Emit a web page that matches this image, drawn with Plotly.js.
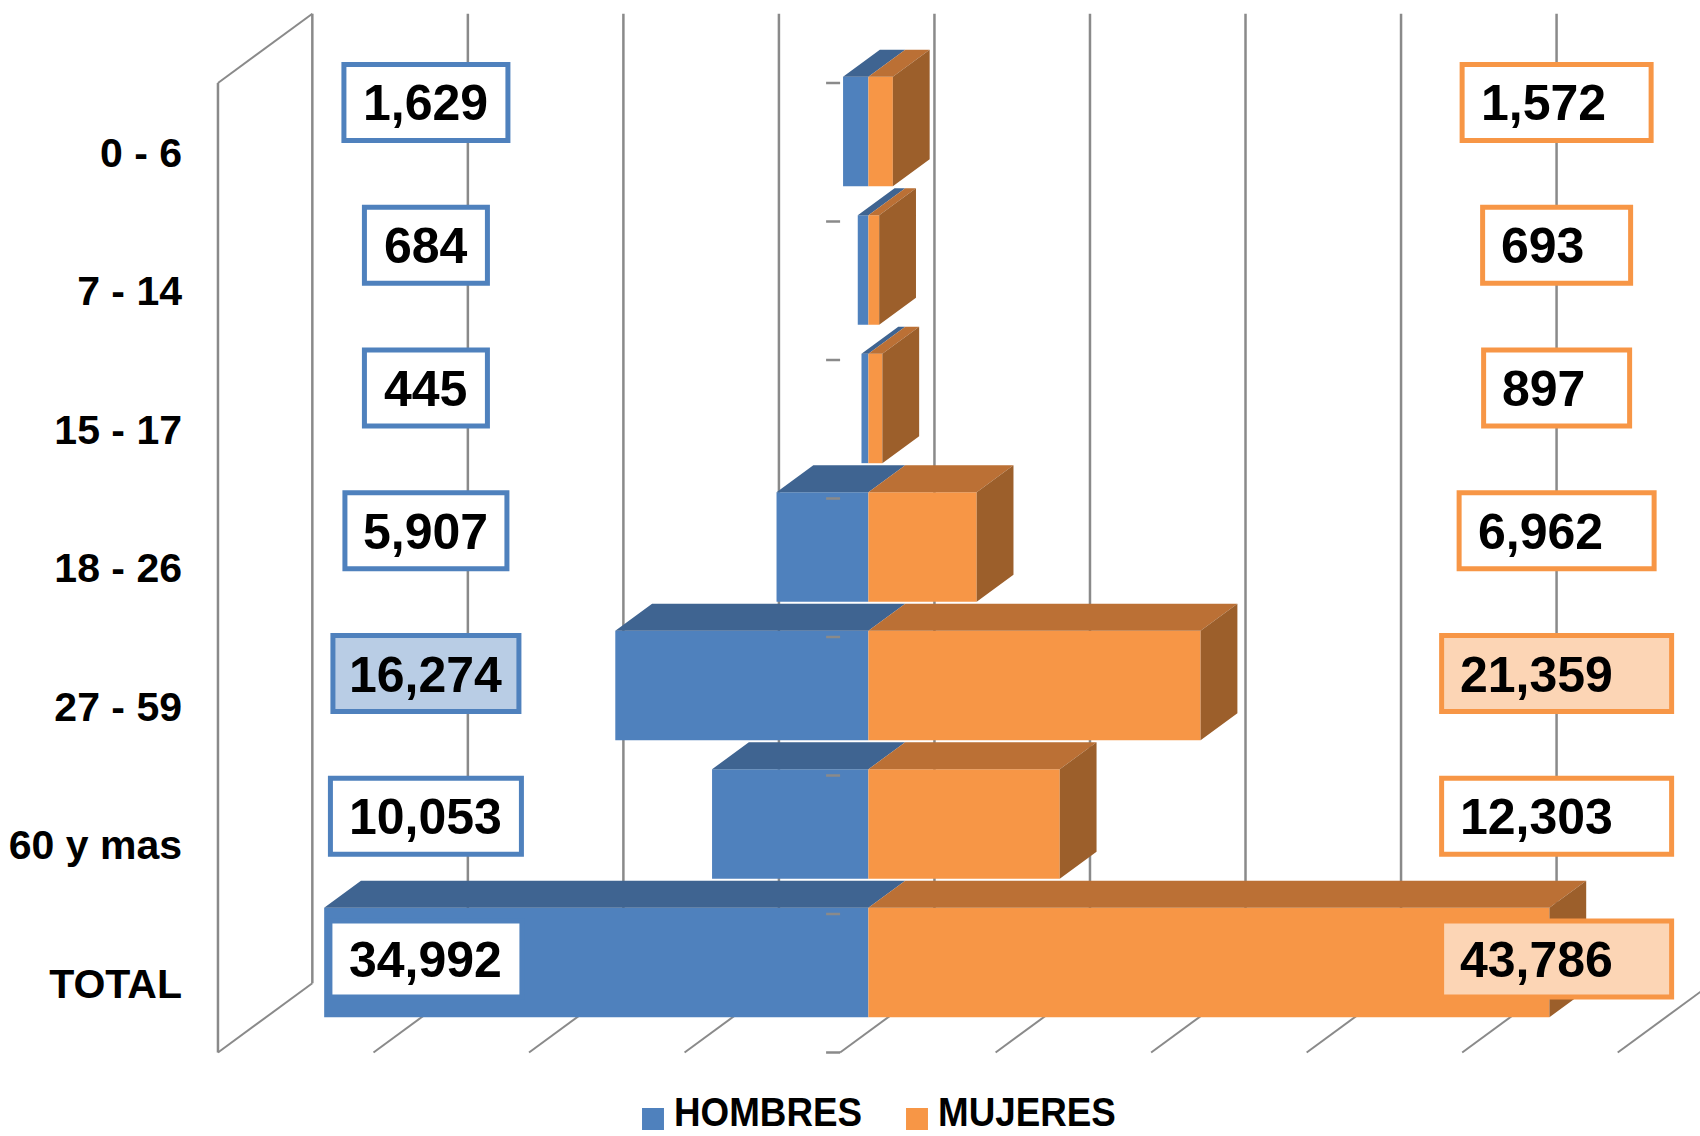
<!DOCTYPE html>
<html><head><meta charset="utf-8">
<script src="https://cdn.plot.ly/plotly-3.0.1.min.js"></script>
<style>html,body{margin:0;padding:0;background:#fff}</style></head>
<body><div id="chart" style="width:1700px;height:1136px"></div>
<script>
const categories = ["0 - 6","7 - 14","15 - 17","18 - 26","27 - 59","60 y mas","TOTAL"];
const hombres = [1629,684,445,5907,16274,10053,34992];
const mujeres = [1572,693,897,6962,21359,12303,43786];
const highlightH = [false,false,false,false,true,false,false];
const highlightM = [false,false,false,false,true,false,true];
const gridValues = [-30000,-20000,-10000,0,10000,20000,30000,40000,50000];
const wallValue = -40000;
// outer widths of the value boxes, in pixels
const leftBoxW = [169,128,128,167,191,196,197];
const rightBoxW = [194,153,151,200,235,235,235];

// projection of the 3-D box onto the plane: depth 0 = front, 1 = back wall
const DX = 6067, DY = 0.5, BAR_D0 = 0.3, BAR_D1 = 0.69;
const px = (v,d)=> v + (d-BAR_D0)*DX;
const py = (row,d)=> row - d*DY;
const C = {blue:'#4f81bd',blueTop:'#3f6491',orange:'#f79646',orangeTop:'#bb7035',orangeSide:'#9c5f2b',grid:'#8a8a8a'};
const rows = categories.map((_,i)=>i);
const barCenter = rows.map(i=>py(i+0.5,BAR_D0));

function poly(pts,xs,ys){pts.forEach(p=>{xs.push(p[0]);ys.push(p[1]);});xs.push(pts[0][0],null);ys.push(pts[0][1],null);}
function face(xs,ys,color){return {type:'scatter',mode:'lines',x:xs,y:ys,fill:'toself',fillcolor:color,line:{width:0,color:color},showlegend:false,hoverinfo:'skip'};}

const tbx=[],tby=[],tox=[],toy=[],sx=[],sy=[];
const HALF=0.395, BAR_W=2*HALF, shift=(BAR_D1-BAR_D0)*DX, rise=(BAR_D1-BAR_D0)*DY;
rows.forEach(i=>{
  const top=barCenter[i]-HALF, bot=barCenter[i]+HALF, h=-hombres[i], m=mujeres[i];
  poly([[h,top],[0,top],[shift,top-rise],[h+shift,top-rise]],tbx,tby);
  poly([[0,top],[m,top],[m+shift,top-rise],[shift,top-rise]],tox,toy);
  poly([[m,top],[m+shift,top-rise],[m+shift,bot-rise],[m,bot]],sx,sy);
});

const traces=[
 {type:'bar',orientation:'h',name:'HOMBRES',y:barCenter,x:hombres.map(v=>-v),width:BAR_W,marker:{color:C.blue},hoverinfo:'skip'},
 {type:'bar',orientation:'h',name:'MUJERES',y:barCenter,x:mujeres,width:BAR_W,marker:{color:C.orange},hoverinfo:'skip'},
 face(tbx,tby,C.blueTop),face(tox,toy,C.orangeTop),face(sx,sy,C.orangeSide)
];

const line=(x0,y0,x1,y1,w,layer)=>({type:'line',xref:'x',yref:'y',x0,y0,x1,y1,layer:layer||'below',line:{color:C.grid,width:w}});
const shapes=[];
shapes.push(line(px(wallValue,0),py(0,0),px(wallValue,1),py(0,1),2));
shapes.push(line(px(wallValue,0),py(0,0),px(wallValue,0),py(7,0),2.5));
shapes.push(line(px(wallValue,1),py(0,1),px(wallValue,1),py(7,1),2.5));
shapes.push(line(px(wallValue,0),py(7,0),px(wallValue,1),py(7,1),2));
gridValues.forEach(v=>{
  shapes.push(line(px(v,1),py(0,1),px(v,1),py(7,1),2.5));
  shapes.push(line(px(v,0),py(7,0),px(v,1),py(7,1),2));
});
for(let i=0;i<=7;i++) shapes.push(line(px(0,0)-900,py(i,0),px(0,0),py(i,0),2.5,'above'));

// value boxes
const FS=50, leftX=-28450, rightX=44250;
const boxY=i=>0.1406+i*1.0308;
const fmt=v=>v.toLocaleString('en-US');
const textW=s=>[...s].reduce((a,c)=>a+(c===','?0.278:0.556),0)*FS;
const annotations=[];
function box(x,y,w,lineColor,fill){
  shapes.push({type:'rect',layer:'above',xref:'x',yref:'y',xsizemode:'pixel',ysizemode:'pixel',xanchor:x,yanchor:y,
    x0:-w/2+2.5,x1:w/2-2.5,y0:-38,y1:38,line:{color:lineColor,width:5},fillcolor:fill});
}
function label(x,y,text,xshift){
  annotations.push({x,y,xref:'x',yref:'y',text,showarrow:false,xshift,yshift:-1,xanchor:'center',yanchor:'middle',
    font:{family:'"Liberation Sans",Arial,sans-serif',size:FS,color:'#000',weight:700}});
}
rows.forEach(i=>{
  const th=fmt(hombres[i]), tm=fmt(mujeres[i]);
  box(leftX,boxY(i),leftBoxW[i],C.blue,highlightH[i]?'#b9cde5':'#ffffff');
  label(leftX,boxY(i),th,0);
  box(rightX,boxY(i),rightBoxW[i],C.orange,highlightM[i]?'#fcd5b5':'#ffffff');
  label(rightX,boxY(i),tm,-rightBoxW[i]/2+21+textW(tm)/2);
});

const L=186,W=1700,H=1136,B=60,k=0.015553,zero=868.4,yTop=83,yU=138.5;
const layout={
 width:W,height:H,paper_bgcolor:'#fff',plot_bgcolor:'#fff',
 margin:{l:L,r:0,t:0,b:B,pad:0},barmode:'overlay',showlegend:true,hovermode:false,
 xaxis:{range:[(L-zero)/k,(W-zero)/k],showgrid:false,zeroline:false,showticklabels:false,ticks:'',showline:false,fixedrange:true},
 yaxis:{range:[(H-B-yTop)/yU,(0-yTop)/yU],showgrid:false,zeroline:false,showline:false,ticks:'',
   tickmode:'array',tickvals:rows.map(i=>i+0.5),ticktext:categories,fixedrange:true,ticklabelstandoff:3,
   tickfont:{family:'"Liberation Sans",Arial,sans-serif',size:41,color:'#000',weight:700}},
 legend:{orientation:'h',xref:'container',yref:'container',x:638/W,xanchor:'left',y:(H-1110)/H,yanchor:'middle',
   entrywidthmode:'pixels',entrywidth:219,traceorder:'normal',bgcolor:'rgba(0,0,0,0)',
   font:{family:'"Liberation Sans",Arial,sans-serif',size:40,color:'#000',weight:700}},
 shapes,annotations
};
Plotly.newPlot('chart',traces,layout,{displayModeBar:false,responsive:false}).then(()=>{
  // reference legend uses a condensed bold face and larger swatches
  document.querySelectorAll('.legend .traces').forEach(g=>{
    const t=g.querySelector('.legendtext');
    if(t){const x=+t.getAttribute('x')||0,y=+t.getAttribute('y')||0;
      t.setAttribute('transform',`translate(${x-4} ${y}) scale(0.92 1) translate(${-x} ${-y})`);}
    const p=g.querySelector('.legendsymbols path');
    if(p) p.setAttribute('transform','translate(15 9) scale(1.83)');
  });
});
</script></body></html>
